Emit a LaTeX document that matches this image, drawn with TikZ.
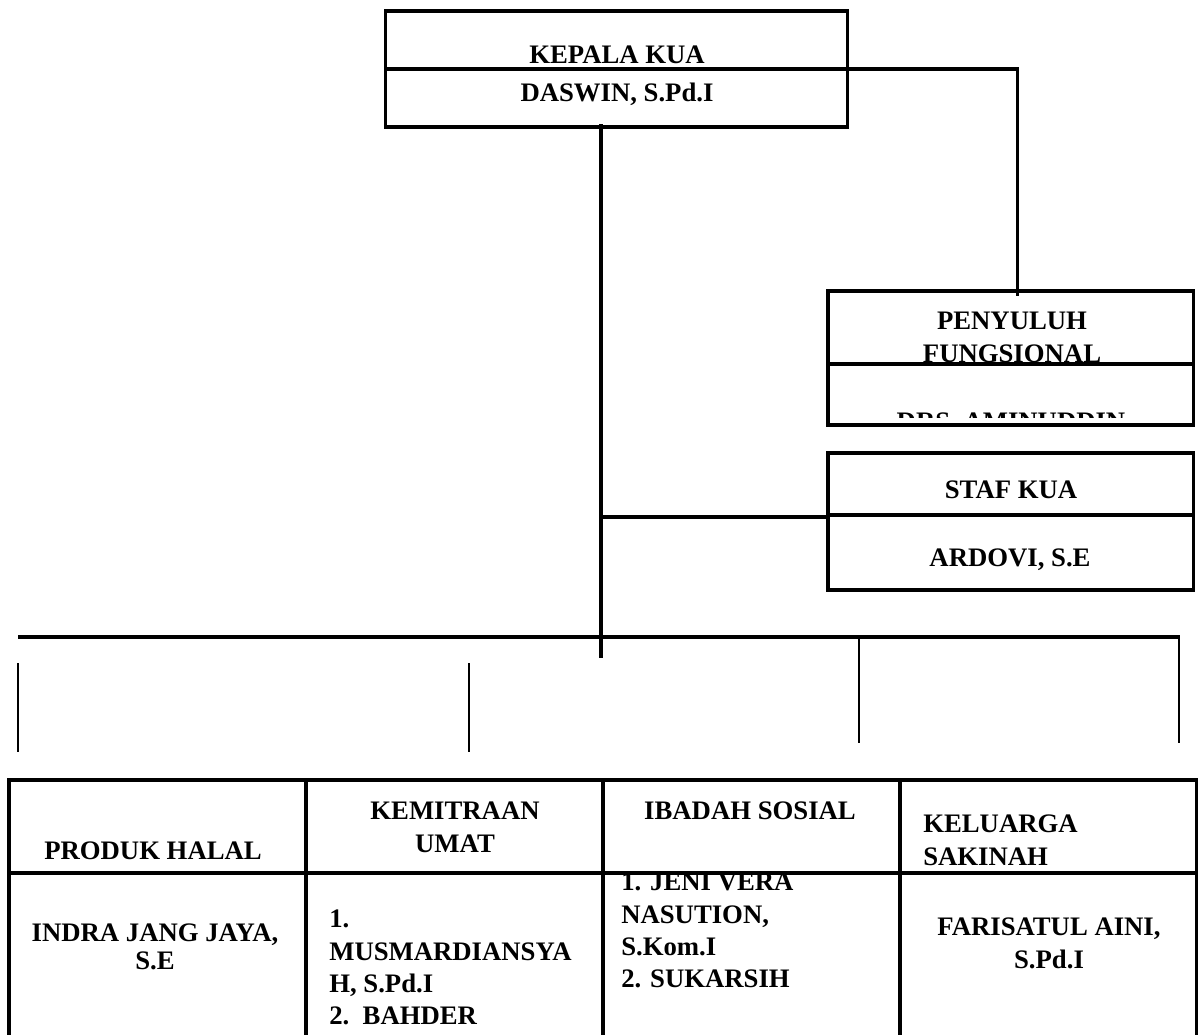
\documentclass[tikz,border=0pt]{standalone}
\usepackage{fontspec}
\setmainfont{Liberation Serif}
\usepackage{tikz}
\tikzstyle{box} = [rectangle, draw=black, line width=2.2pt, inner sep=0pt]
\tikzstyle{txt} = [inner sep=0pt, anchor=north, align=center, font=\bfseries\fontsize{19}{23}\selectfont]
\tikzstyle{txtl} = [txt, anchor=north west, align=left]
\tikzstyle{link} = [line width=2.2pt]
\tikzstyle{bus} = [line width=3.5pt]
\tikzstyle{drop} = [line width=2pt]

\begin{document}
\begin{tikzpicture}[x=0.025cm, y=-0.025cm]

\useasboundingbox (0,0) rectangle (1200,1034);
\clip (0,0) rectangle (1200,1034);

% upper boxes
\node (kepala) [box, minimum width=11.525cm, minimum height=2.9cm] at (616.5,69) {};
\node (penyuluh) [box, minimum width=9.125cm, minimum height=3.35cm] at (1010.5,358) {};
\node (staf) [box, minimum width=9.125cm, minimum height=3.425cm] at (1010.5,521.5) {};

\node (kepalaT) [txt] at (617,46) {KEPALA KUA};
\node (kepalaN) [txt] at (617,83) {DASWIN, S.Pd.I};
\node (penyuluhT) [txt] at (1012,312) {PENYULUH\\FUNGSIONAL};
\begin{scope}
\clip (828,291) rectangle (1193,417);
\node (penyuluhN) [txt] at (1011,413) {DRS. AMINUDDIN};
\end{scope}
\node (stafT) [txt] at (1011,481) {STAF KUA};
\node (stafN) [txt] at (1010,549) {ARDOVI, S.E};

\draw [link] (kepala.west) -- (kepala.east);
\draw [link] ([yshift=-0.15cm]penyuluh.west) -- ([yshift=-0.15cm]penyuluh.east);
\draw [link] ([yshift=0.1625cm]staf.west) -- ([yshift=0.1625cm]staf.east);

% connectors
\coordinate (trunktop) at (601,124);
\coordinate (trunkend) at (601,658);
\coordinate (stafjoin) at (601,517);
\draw [link] (kepala.east) -| ([xshift=0.175cm,yshift=-0.175cm]penyuluh.north);
\draw [link] (trunktop) -- (trunkend);
\draw [link] (stafjoin) -- (staf.west |- stafjoin);

\coordinate (busL) at (18,637);
\coordinate (busR) at (1180,637);
\coordinate (busM) at (859,637);
\draw [bus] (busL) -- (busR);
\coordinate (dropM) at (859,743);
\coordinate (dropR) at (1179,743);
\draw [drop] (busM) -- (dropM);
\draw [drop] ([xshift=-0.025cm]busR) -- (dropR);

\coordinate (stubA) at (18,663);
\coordinate (stubA2) at (18,752);
\coordinate (stubB) at (469,663);
\coordinate (stubB2) at (469,752);
\draw [drop] (stubA) -- (stubA2);
\draw [drop] (stubB) -- (stubB2);

% lower table
\node (produk) [box, minimum width=7.425cm, minimum height=7.1cm] at (157.5,922) {};
\node (kemitraan) [box, minimum width=7.425cm, minimum height=7.1cm] at (454.5,922) {};
\node (ibadah) [box, minimum width=7.425cm, minimum height=7.1cm] at (751.5,922) {};
\node (keluarga) [box, minimum width=7.4cm, minimum height=7.1cm] at (1048,922) {};

\node (produkT) [txt] at (153,842) {PRODUK HALAL};
\node (produkN) [txt] at (155,924) {INDRA JANG JAYA,\\[-0.12cm]S.E};
\node (kemitraanT) [txt] at (455,802) {KEMITRAAN\\UMAT};
\node (kemitraanN) [txtl] at (329,910) {1.\\MUSMARDIANSYA\\H, S.Pd.I\\2.\ \ BAHDER};
\node (ibadahT) [txt] at (750,802) {IBADAH SOSIAL};
\node (ibadahN) [txtl] at (621,873) {1. JENI VERA\\NASUTION,\\S.Kom.I\\2. SUKARSIH};
\node (keluargaT) [txtl] at (923,815) {KELUARGA\\SAKINAH};
\node (keluargaN) [txt] at (1049,918) {FARISATUL AINI,\\S.Pd.I};

\coordinate (rowline) at (0,873);
\draw [link] (produk.west |- rowline) -- (keluarga.east |- rowline);

\end{tikzpicture}
\end{document}
